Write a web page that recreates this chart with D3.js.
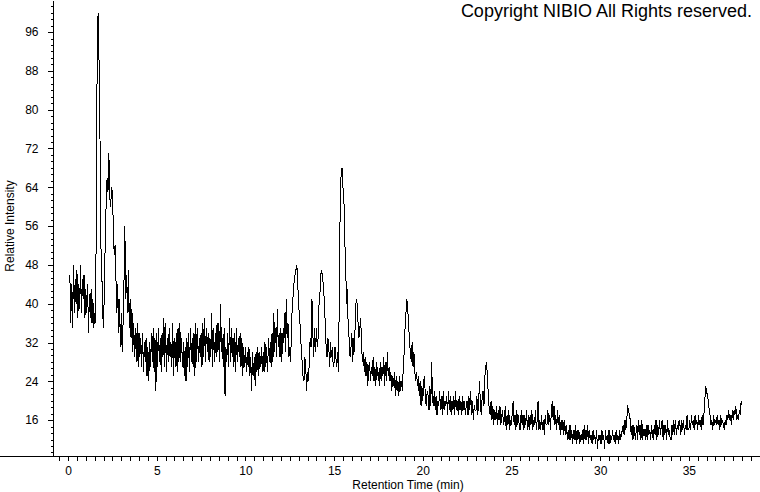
<!DOCTYPE html>
<html>
<head>
<meta charset="utf-8">
<script src="https://cdn.jsdelivr.net/npm/d3@7"></script>
<style>
	html, body { margin: 0; padding: 0; background: #fff; }
	#chart { width: 760px; height: 492px; }
	text { font-family: Arial, "Liberation Sans", sans-serif; fill: #000; }
</style>
</head>
<body>
<div id="chart"></div>
<script>
'use strict'

/**
 * Chromatogram: relative intensity over retention time.
 * One sample every 0.05 min, each block starts at its own time.
 */
const timeStep = 0.05;
const blockStarts = [0.1, 5, 10, 15, 20, 25, 30, 35];

// 0.10 .. 4.95 min
const intensity0to5 = [
	46, 36, 44, 35, 48, 38, 45, 40, 47, 37,
	44, 39, 48, 38, 45, 41, 46, 37, 43, 38,
	44, 34, 42, 37, 43, 36, 41, 35, 38, 36,
	64, 97, 100, 89, 74, 52, 47, 38, 35, 44,
	54, 61, 66, 63, 71, 62, 60, 64, 63, 56,
	50, 52, 45, 38, 44, 34, 41, 31, 38, 30,
	36, 44, 56, 41, 46, 38, 47, 35, 41, 33,
	39, 30, 36, 29, 35, 28, 36, 27, 34, 29,
	33, 27, 34, 26, 32, 28, 33, 25, 31, 24,
	32, 27, 34, 28, 35, 26, 33, 22
];
// 5.00 .. 9.95 min
const intensity5to10 = [
	34, 27, 35, 28, 33, 26, 34, 29, 37, 27,
	36, 26, 33, 28, 35, 29, 32, 27, 36, 25,
	33, 27, 34, 26, 35, 28, 36, 28, 33, 27,
	32, 25, 31, 24, 33, 27, 34, 26, 35, 28,
	33, 27, 34, 25, 36, 28, 35, 28, 33, 29,
	34, 27, 36, 29, 37, 28, 35, 30, 34, 28,
	33, 29, 38, 27, 35, 28, 34, 29, 36, 30,
	36, 28, 40, 30, 33, 27, 35, 21, 31, 28,
	34, 27, 37, 28, 35, 29, 33, 27, 34, 26,
	35, 28, 33, 29, 34, 27, 33, 25, 31, 27
];
// 10.00 .. 14.95 min
const intensity10to15 = [
	31, 26, 30, 27, 31, 25, 29, 22, 30, 25,
	29, 23, 30, 26, 31, 25, 30, 27, 31, 26,
	30, 26, 32, 27, 31, 26, 33, 28, 32, 27,
	34, 28, 38, 30, 35, 29, 39, 31, 34, 29,
	35, 28, 34, 32, 38, 30, 41, 33, 36, 29,
	31, 28, 36, 40, 42, 45, 46, 47, 48, 44,
	40, 37, 35, 30, 28, 25, 24, 29, 27, 22,
	26, 24, 28, 33, 31, 41, 34, 29, 35, 30,
	35, 31, 33, 40, 42, 46, 47, 45, 44, 40,
	36, 31, 29, 33, 31, 27, 32, 29, 31, 27
];
// 15.00 .. 19.95 min
const intensity15to20 = [
	28, 31, 29, 27, 30, 26, 45, 63, 67, 68,
	64, 62, 53, 48, 40, 43, 34, 33, 29, 31,
	34, 28, 33, 30, 38, 41, 40, 36, 33, 35,
	37, 31, 28, 30, 26, 29, 25, 28, 23, 27,
	28, 24, 27, 25, 29, 24, 27, 23, 28, 25,
	26, 23, 28, 24, 27, 25, 29, 23, 28, 24,
	30, 25, 27, 24, 26, 22, 25, 23, 26, 21,
	25, 22, 24, 21, 25, 22, 24, 22, 27, 30,
	35, 38, 41, 39, 36, 32, 30, 28, 32, 27,
	30, 26, 24, 26, 23, 25, 21, 24, 19, 23
];
// 20.00 .. 24.95 min
const intensity20to25 = [
	20, 24, 25, 20, 19, 22, 21, 18, 23, 19,
	28, 20, 19, 22, 18, 21, 17, 20, 19, 22,
	18, 21, 17, 22, 18, 20, 19, 21, 17, 22,
	18, 21, 17, 20, 18, 21, 17, 22, 18, 20,
	17, 21, 18, 20, 17, 21, 18, 20, 17, 19,
	20, 17, 21, 18, 22, 17, 20, 16, 19, 18,
	18, 21, 17, 20, 24, 19, 17, 21, 22, 19,
	25, 27, 28, 24, 21, 18, 17, 20, 16, 19,
	15, 18, 16, 19, 15, 18, 16, 19, 15, 17,
	18, 15, 16, 19, 14, 17, 15, 18, 14, 16
];
// 25.00 .. 29.95 min
const intensity25to30 = [
	15, 18, 20, 15, 17, 14, 18, 15, 17, 14,
	14, 18, 15, 17, 14, 17, 15, 18, 14, 17,
	14, 17, 15, 18, 14, 16, 15, 18, 14, 16,
	20, 14, 16, 14, 17, 14, 16, 13, 17, 15,
	15, 18, 15, 17, 14, 18, 20, 16, 19, 15,
	17, 14, 18, 15, 17, 13, 16, 14, 16, 13,
	16, 13, 15, 12, 14, 12, 15, 12, 14, 11,
	14, 12, 15, 11, 14, 12, 14, 11, 13, 12,
	14, 11, 15, 12, 14, 12, 15, 11, 14, 12,
	13, 11, 14, 12, 13, 11, 14, 10, 13, 12
];
// 30.00 .. 34.95 min
const intensity30to35 = [
	13, 11, 14, 12, 13, 10, 14, 12, 13, 11,
	14, 11, 13, 12, 14, 12, 13, 11, 14, 12,
	13, 11, 14, 12, 13, 14, 15, 13, 16, 14,
	16, 19, 18, 17, 16, 13, 15, 12, 15, 13,
	12, 15, 12, 16, 13, 15, 12, 16, 12, 14,
	14, 12, 15, 12, 15, 13, 14, 12, 15, 13,
	12, 15, 13, 16, 12, 15, 13, 16, 13, 15,
	16, 12, 15, 13, 15, 12, 16, 13, 14, 12,
	12, 15, 13, 16, 13, 16, 13, 15, 14, 16,
	15, 13, 16, 14, 16, 13, 15, 14, 17, 14
];
// 35.00 .. 38.00 min
const intensity35to38 = [
	14, 16, 14, 17, 15, 16, 14, 17, 15, 16,
	14, 17, 15, 16, 14, 17, 15, 17, 20, 23,
	22, 21, 20, 18, 17, 15, 16, 14, 17, 15,
	16, 15, 17, 15, 16, 14, 17, 15, 16, 15,
	14, 16, 15, 17, 16, 18, 16, 17, 15, 18,
	16, 18, 17, 19, 16, 17, 16, 18, 17, 20,
	19
];

const xLabels = [0, 5, 10, 15, 20, 25, 30, 35];
const yLabels = [16, 24, 32, 40, 48, 56, 64, 72, 80, 88, 96];

const copyright = 'Copyright NIBIO All Rights reserved.';
const xTitle = 'Retention Time (min)';
const yTitle = 'Relative Intensity';

const width = 760;
const height = 492;

function buildSeries() {
	let blocks = [intensity0to5, intensity5to10, intensity10to15, intensity15to20,
		intensity20to25, intensity25to30, intensity30to35, intensity35to38];
	let series = [];
	blocks.forEach((b, k) => {
		b.forEach((v, j) => series.push({ t: blockStarts[k] + j * timeStep, v: v }));
	});
	return series;
}

function drawChart() {
	const data = buildSeries();

	const svg = d3.select('#chart')
		.append('svg')
		.attr('width', width)
		.attr('height', height);

	// scales
	const x = d3.scaleLinear().domain([-0.85, 38.9]).range([53, 758]);
	const y = d3.scaleLinear().domain([8.6, 102.2]).range([456, 2]);

	// minor ticks
	let xMinor = d3.range(-0.5, 38.75, 0.5);
	let yMinor = d3.range(-5, 70).map(k => 16 + k * 4 / 3).filter(v => v >= 8.7 && v <= 102);

	const yAxisMinor = svg.append('g')
		.attr('transform', 'translate(53.5,0)')
		.call(d3.axisLeft(y).tickValues(yMinor).tickSize(3).tickFormat(''));
	const yAxisMajor = svg.append('g')
		.attr('transform', 'translate(53.5,0)')
		.call(d3.axisLeft(y).tickValues(yLabels).tickSize(6).tickPadding(9).tickFormat(d3.format('d')));

	const xAxisMinor = svg.append('g')
		.attr('transform', 'translate(0,456.5)')
		.call(d3.axisBottom(x).tickValues(xMinor).tickSize(4).tickFormat(''));
	const xAxisMajor = svg.append('g')
		.attr('transform', 'translate(0,456.5)')
		.call(d3.axisBottom(x).tickValues(xLabels).tickSize(4).tickPadding(6).tickFormat(d3.format('d')));

	svg.selectAll('.domain').attr('stroke', '#000').attr('shape-rendering', 'crispEdges');
	svg.selectAll('.tick line').attr('stroke', '#000').attr('shape-rendering', 'crispEdges');
	svg.selectAll('.tick text').style('font-size', '12px');
	// the axis lines run right up to the picture edges
	yAxisMajor.select('.domain').attr('d', 'M0,0.5V456');
	yAxisMinor.select('.domain').remove();
	xAxisMajor.select('.domain').attr('d', 'M-0.5,0H760');
	xAxisMinor.select('.domain').remove();

	// trace
	const line = d3.line()
		.x(d => x(d.t))
		.y(d => y(d.v));

	svg.append('path')
		.datum(data)
		.attr('d', line)
		.attr('fill', 'none')
		.attr('stroke', '#000')
		.attr('stroke-width', 1)
		.attr('shape-rendering', 'crispEdges');

	// titles
	svg.append('text')
		.attr('x', 408)
		.attr('y', 489)
		.attr('text-anchor', 'middle')
		.style('font-size', '12px')
		.text(xTitle);

	svg.append('text')
		.attr('transform', 'translate(14,226) rotate(-90)')
		.attr('text-anchor', 'middle')
		.style('font-size', '12px')
		.text(yTitle);

	svg.append('text')
		.attr('x', 752)
		.attr('y', 17)
		.attr('text-anchor', 'end')
		.style('font-size', '18px')
		.text(copyright);
}

drawChart();
</script>
</body>
</html>
